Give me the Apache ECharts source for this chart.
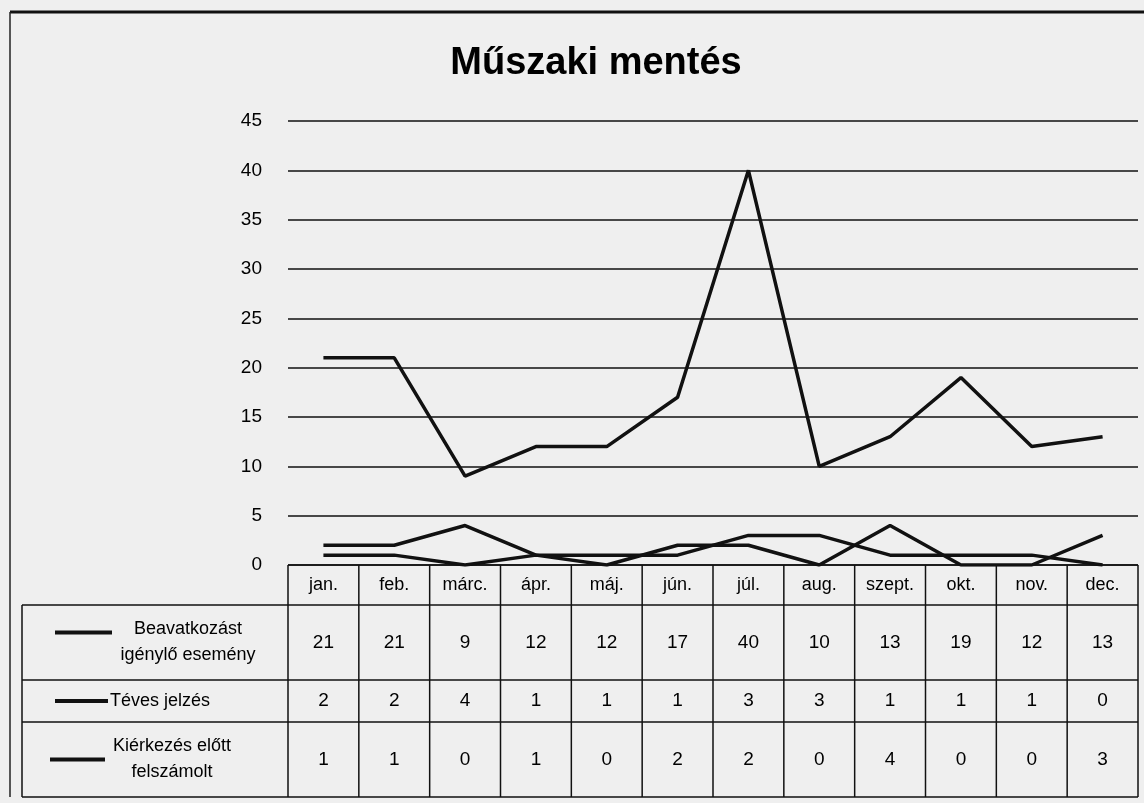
<!DOCTYPE html>
<html><head><meta charset="utf-8">
<script src="https://cdn.jsdelivr.net/npm/echarts@6/dist/echarts.min.js"></script>
<style>html,body{margin:0;padding:0;background:#efefef;}#c{width:1144px;height:803px;}</style>
</head><body><div id="c"></div>
<script>
const categories = ['jan.','feb.','márc.','ápr.','máj.','jún.','júl.','aug.','szept.','okt.','nov.','dec.'];
const seriesNames = [['Beavatkozást','igénylő esemény'],['Téves jelzés'],['Kiérkezés előtt','felszámolt']];
const beavatkozas = [21,21,9,12,12,17,40,10,13,19,12,13];
const teves = [2,2,4,1,1,1,3,3,1,1,1,0];
const kierkezes = [1,1,0,1,0,2,2,0,4,0,0,3];
const yTicks = [0,5,10,15,20,25,30,35,40,45];
const allSeries = [beavatkozas, teves, kierkezes];

const FONT = '"Liberation Sans Narrow","Liberation Sans",sans-serif';
const L = 288, R = 1138, TOP = 121, AX = 565;
const tableLeft = 22;
const rowLines = [605, 680, 722, 797];
const colW = (R - L) / categories.length;

const chart = echarts.init(document.getElementById('c'), null, {renderer:'canvas'});
const g = [];
const lineStyle = {stroke:'#111', lineWidth:1.5};
// outer frame
g.push({type:'line', shape:{x1:10,y1:12,x2:1144,y2:12}, style:{stroke:'#111', lineWidth:3}});
g.push({type:'line', shape:{x1:10,y1:12,x2:10,y2:797}, style:{stroke:'#222', lineWidth:1.5}});
// horizontal table lines
g.push({type:'line', shape:{x1:L,y1:AX,x2:R,y2:AX}, style:lineStyle});
rowLines.forEach(y => g.push({type:'line', shape:{x1:tableLeft,y1:y,x2:R,y2:y}, style:lineStyle}));
// vertical table lines
g.push({type:'line', shape:{x1:tableLeft,y1:rowLines[0],x2:tableLeft,y2:rowLines[3]}, style:lineStyle});
for (let i = 0; i <= categories.length; i++) {
  const x = L + i*colW;
  g.push({type:'line', shape:{x1:x,y1:AX,x2:x,y2:rowLines[3]}, style:lineStyle});
}
// values and legend
const legendLine = [[55,112],[55,108],[50,105]];
const legendText = [188, 110, 172];
allSeries.forEach((arr, r) => {
  const yc = (rowLines[r] + rowLines[r+1]) / 2;
  arr.forEach((v, i) => {
    g.push({type:'text', x: L + (i+0.5)*colW, y: yc, style:{text:String(v), font:'19px '+FONT, fill:'#000', align:'center', verticalAlign:'middle'}});
  });
  g.push({type:'line', shape:{x1:legendLine[r][0], y1:yc - (r===0?10:0), x2:legendLine[r][1], y2:yc - (r===0?10:0)}, style:{stroke:'#111', lineWidth:4}});
  if (r === 1) {
    g.push({type:'text', x: legendText[r], y: yc, style:{text:seriesNames[r].join('\n'), font:'18px '+FONT, fill:'#000', align:'left', verticalAlign:'middle'}});
  } else {
    g.push({type:'text', x: legendText[r], y: yc, style:{text:seriesNames[r].join('\n'), font:'18px '+FONT, fill:'#000', align:'center', verticalAlign:'middle', lineHeight:26}});
  }
});

chart.setOption({
  backgroundColor:'#efefef',
  animation:false,
  title:{text:'Műszaki mentés', left:591, textAlign:'center', top:40, textStyle:{fontFamily:FONT, fontSize:38, fontWeight:'bold', color:'#000'}},
  grid:{left:L, right:1144-R, top:TOP, bottom:803-AX, containLabel:false},
  xAxis:{type:'category', data:categories, boundaryGap:true,
    axisLine:{show:false}, axisTick:{show:false},
    axisLabel:{fontFamily:FONT, fontSize:18, color:'#000', margin:11, interval:0}},
  yAxis:{type:'value', min:0, max:45, interval:5,
    axisLine:{show:false}, axisTick:{show:false},
    axisLabel:{fontFamily:FONT, fontSize:19, color:'#000', margin:26},
    splitLine:{lineStyle:{color:'#111', width:1.5}}},
  series: allSeries.map((arr, i) => ({
    type:'line', name: seriesNames[i].join(' '), data:arr, symbol:'none',
    lineStyle:{color:'#111', width:3.5}, z: 3
  })),
  graphic: g
});
</script></body></html>
